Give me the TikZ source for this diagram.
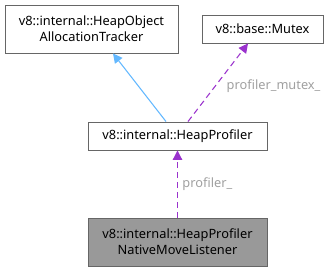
\documentclass[tikz,border=0pt]{standalone}
\usepackage{fontspec}
\setmainfont{Noto Sans}
\usetikzlibrary{arrows.meta}

\definecolor{edgeblue}{HTML}{63B8FF}
\definecolor{edgepurple}{HTML}{9A32CD}
\definecolor{boxline}{HTML}{666666}
\definecolor{boxfill}{HTML}{999999}
\definecolor{labelgrey}{HTML}{A0A0A0}

\tikzset{
  classbox/.style={draw=boxline, fill=white, line width=0.7pt, align=center,
    inner sep=0pt, font=\fontsize{9.6}{11.8}\selectfont},
  usage/.style={edgepurple, dashed, dash pattern=on 4.5pt off 3pt, line width=0.8pt,
    -{Triangle[length=7pt,width=7pt]}},
  inherit/.style={edgeblue, line width=0.8pt, -{Triangle[length=7pt,width=7pt,fill=edgeblue]}},
  edgelabel/.style={labelgrey, font=\fontsize{9.6}{11}\selectfont}
}

\begin{document}
\begin{tikzpicture}[x=0.75pt,y=-0.75pt]
  % canvas
  \useasboundingbox (0,0) rectangle (328,272);

  % class boxes
  \node[classbox, minimum width=129.75pt, minimum height=36pt] (tracker) at (91.5,29)
    {v8::internal::HeapObject\\AllocationTracker};
  \node[classbox, minimum width=90.75pt, minimum height=21pt] (mutex) at (262.5,29)
    {v8::base::Mutex};
  \node[classbox, minimum width=134.25pt, minimum height=21pt] (profiler) at (177.5,136)
    {v8::internal::HeapProfiler};
  \node[classbox, fill=boxfill, minimum width=134.25pt, minimum height=36pt] (listener) at (177.5,242)
    {v8::internal::HeapProfiler\\NativeMoveListener};

  % connectors
  \draw[inherit] (profiler.north -| 166,0) -- (tracker.south -| 113,0);
  \draw[usage] (profiler.north -| 188,0) -- (mutex.south -| 248,0)
    node[edgelabel, pos=0.45, right=5pt] {profiler\_mutex\_};
  \draw[usage] (listener.north) -- (profiler.south)
    node[edgelabel, midway, right=0pt] {profiler\_};
\end{tikzpicture}
\end{document}
